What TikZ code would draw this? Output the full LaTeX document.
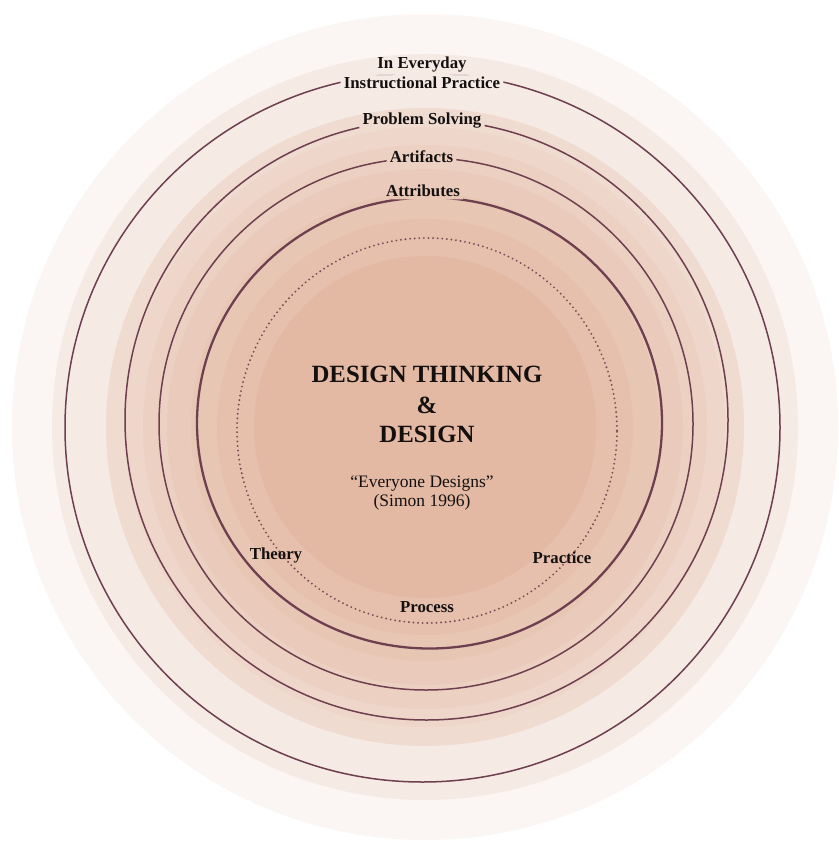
\documentclass[tikz,border=0pt]{standalone}
\usepackage{fontspec}
\setmainfont{Liberation Serif}
\definecolor{ringline}{HTML}{6E3F4F}
\definecolor{dotline}{HTML}{7B4C58}
\definecolor{ink}{HTML}{141010}
\begin{document}
\begin{tikzpicture}[x=1pt,y=-1pt,
  lab/.style={font=\bfseries\fontsize{16.8}{18}\selectfont, text=ink, inner xsep=3pt, inner ysep=2pt, anchor=base},
  title/.style={font=\bfseries\fontsize{24.8}{30}\selectfont, text=ink, anchor=base, inner sep=0pt},
  quote/.style={font=\fontsize{17.5}{19}\selectfont, text=ink, anchor=base, inner sep=0pt},
  ring/.style={draw=ringline, line width=1.5pt},
  mainring/.style={draw=ringline, line width=2.3pt},
  dotring/.style={draw=dotline, line width=2.1pt, line cap=round, dash pattern=on 0pt off 4.6pt}]
\useasboundingbox (0,0) rectangle (838,842);
\fill[white] (0,0) rectangle (838,842);

% shaded background bands, from the outside in
\foreach \r/\c in {413/FBF6F3, 373/F6EAE5, 319/F0DBD0, 300/EED6CA, 282/ECD1C3,
                   258/EACBBB, 234/E8C6B4, 208/E6C0AC, 171/E3B9A3}{
  \definecolor{bandcol}{HTML}{\c}
  \fill[bandcol] (425,427) circle[radius=\r pt];
}

% ring labels
\node[lab] (everyday) at (422,69) {In Everyday};
\node[lab] (instr)    at (422,89) {Instructional Practice};
\node[lab] (problem)  at (422,125) {Problem Solving};
\node[lab] (artif)    at (421.5,163) {Artifacts};
\node[lab] (attrib)   at (423,197) {Attributes};

% rings, interrupted where a label sits on them
\begin{scope}[even odd rule]
  \clip (0,0) rectangle (838,842)
    (everyday.south west -| instr.west) rectangle (everyday.north east -| instr.east)
    (instr.south west) rectangle (instr.north east)
    (problem.south west) rectangle (problem.north east)
    (artif.south west) rectangle (artif.north east)
    (attrib.south west) rectangle (attrib.north east);
  \draw[ring]     (422.5,427.5) ellipse[x radius=357.5pt, y radius=354.5pt];
  \draw[ring]     (426.5,420)   ellipse[x radius=301.5pt, y radius=300pt];
  \draw[ring]     (426,424)     ellipse[x radius=267pt,   y radius=266pt];
  \draw[mainring] (429.5,423)   ellipse[x radius=232.5pt, y radius=225.5pt];
\end{scope}
\draw[dotring] (427,430.5) ellipse[x radius=190pt, y radius=192.5pt];

% centre text
\node[title] (t1) at (427,382) {DESIGN THINKING};
\node[title] (t2) at (427,413) {\&};
\node[title] (t3) at (427,442) {DESIGN};
\node[quote] (q1) at (422,487) {“Everyone Designs”};
\node[quote] (q2) at (422,506) {(Simon 1996)};

% labels on the dotted ring
\node[lab] (theory)   at (276,559) {Theory};
\node[lab] (practice) at (562,563) {Practice};
\node[lab] (process)  at (427,612) {Process};
\end{tikzpicture}
\end{document}
